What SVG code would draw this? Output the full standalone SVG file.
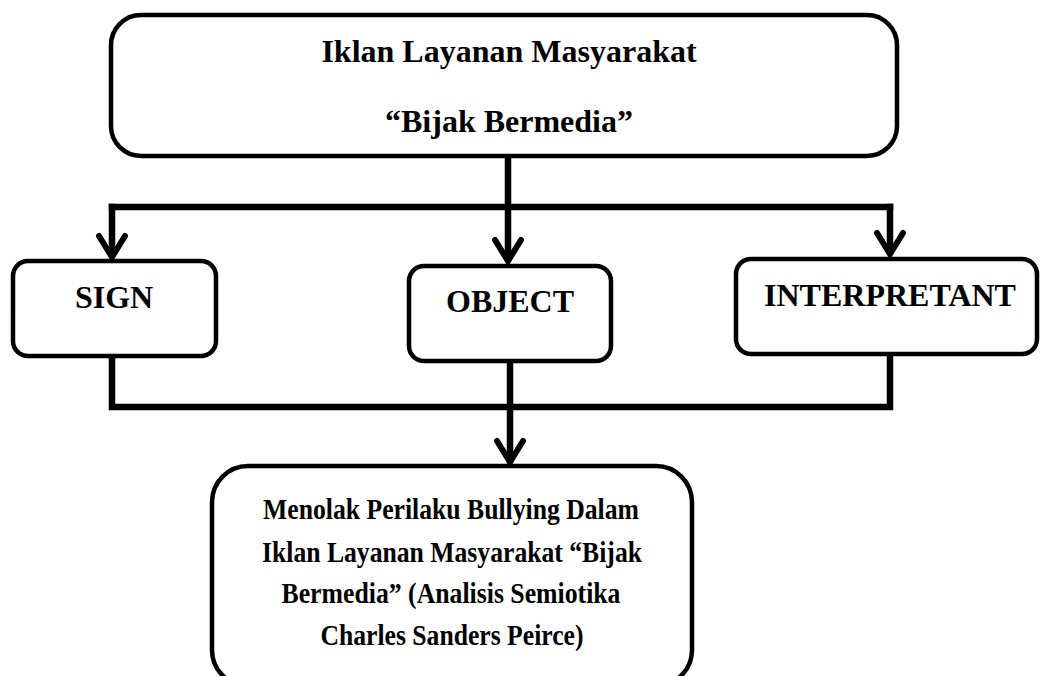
<svg xmlns="http://www.w3.org/2000/svg" width="1040" height="676" viewBox="0 0 1040 676">
<style>
.box{fill:#fff;stroke:#000;stroke-width:4.5}
.t{font-family:"Liberation Serif","Times New Roman",serif;font-weight:bold;font-size:32px;fill:#000;text-anchor:middle}
.tb{font-family:"Liberation Serif","Times New Roman",serif;font-weight:bold;font-size:30px;fill:#000;text-anchor:middle}
.ln{fill:none;stroke:#000;stroke-width:6.5;stroke-linecap:square}
.ah{fill:none;stroke:#000;stroke-width:6;stroke-linecap:round;stroke-linejoin:miter}
</style>
<rect width="1040" height="676" fill="#fff"/>
<g id="connectors">
<path class="ln" d="M508,158 V258"/>
<path class="ln" d="M112,207 H890"/>
<path class="ln" d="M112,207 V254"/>
<path class="ln" d="M890,207 V251"/>
<path class="ah" d="M99,236 L112,257 L125,236"/>
<path class="ah" d="M495,240 L508,261 L521,240"/>
<path class="ah" d="M877,233 L890,254 L903,233"/>
<path class="ln" d="M112,359 V407 H890 V357"/>
<path class="ln" d="M510,364 V460"/>
<path class="ah" d="M497,441 L510,462 L523,441"/>
</g>
<g id="top">
<rect class="box" x="111" y="15" width="786" height="141" rx="30"/>
<text class="t" x="509" y="62">Iklan Layanan Masyarakat</text>
<text class="t" x="509" y="132">“Bijak Bermedia”</text>
</g>
<g id="sign">
<rect class="box" x="13" y="261" width="203" height="95" rx="15"/>
<text class="t" x="114" y="308">SIGN</text>
</g>
<g id="object">
<rect class="box" x="409" y="266" width="202" height="95" rx="15"/>
<text class="t" x="510" y="312">OBJECT</text>
</g>
<g id="interpretant">
<rect class="box" x="736" y="259" width="301" height="95" rx="15"/>
<text class="t" x="890" y="306">INTERPRETANT</text>
</g>
<g id="result">
<rect class="box" x="212" y="466" width="480" height="220" rx="36"/>
<text class="tb" x="451" y="519" textLength="376" lengthAdjust="spacingAndGlyphs">Menolak Perilaku Bullying Dalam</text>
<text class="tb" x="452" y="562" textLength="380" lengthAdjust="spacingAndGlyphs">Iklan Layanan Masyarakat “Bijak</text>
<text class="tb" x="451" y="603" textLength="339" lengthAdjust="spacingAndGlyphs">Bermedia” (Analisis Semiotika</text>
<text class="tb" x="452" y="645" textLength="263" lengthAdjust="spacingAndGlyphs">Charles Sanders Peirce)</text>
</g>
</svg>
